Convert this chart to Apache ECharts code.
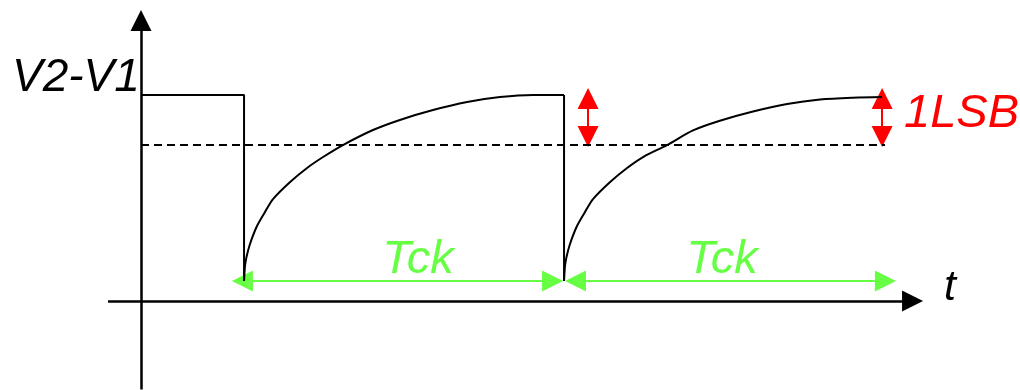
<!DOCTYPE html>
<html lang="en">
<head>
  <meta charset="UTF-8">
  <title>V2-V1 charging</title>
  <style>
    html, body { margin: 0; padding: 0; background: #fff; }
    #main { width: 1020px; height: 390px; }
  </style>
</head>
<body>
<div id="main"></div>
<script src="https://cdn.jsdelivr.net/npm/echarts@6/dist/echarts.min.js"></script>
<script>
// time in Tck units, voltage in units of V2-V1
var stepHigh = [[0, 1], [0.322, 1]]
var dropT = [0.322, 1.322]
var lowLevel = 0.097
var charge1 = [[0.322, 0.097], [0.325, 0.170], [0.3297, 0.214], [0.3406, 0.277], [0.3625, 0.364],
  [0.3875, 0.432], [0.4125, 0.495], [0.466, 0.578], [0.519, 0.646], [0.569, 0.699], [0.631, 0.757],
  [0.725, 0.830], [0.809, 0.879], [0.9125, 0.927], [1.019, 0.966], [1.122, 0.990], [1.225, 1.0],
  [1.322, 1.0]]
var charge2 = [[1.322, 0.097], [1.325, 0.170], [1.3297, 0.214], [1.3406, 0.277], [1.3625, 0.364],
  [1.3875, 0.432], [1.4125, 0.495], [1.466, 0.578], [1.519, 0.646], [1.569, 0.699], [1.644, 0.757],
  [1.725, 0.828], [1.809, 0.875], [1.9125, 0.920], [2.019, 0.956], [2.122, 0.978], [2.225, 0.987],
  [2.316, 0.990]]
var lsbLevel = 0.757
var lsbT = [1.397, 2.316]
var lsbTop = 1.034, lsbBottom = 0.748
var tckEdges = [[0.284, 1.319], [1.325, 2.359]]
var labels = { v: 'V2-V1', t: 't', tck: 'Tck', lsb: '1LSB' }

var green = '#66ff44'
var red = '#ff0000'
var headSize = 21
// half head size in data units (x: 320px per Tck, y: 206px per unit)
var hx = headSize / 2 / 320, hy = headSize / 2 / 206

var chart = echarts.init(document.getElementById('main'))

var axisArrows = [
  { coords: [[0, -0.43], [0, 1.413 - hy]] },
  { coords: [[-0.103, 0], [2.444 - hx, 0]] }
]
var lsbArrows = lsbT.map(function (t) {
  return { coords: [[t, lsbBottom + hy], [t, lsbTop - hy]] }
})
var tckArrows = tckEdges.map(function (e) {
  return { coords: [[e[0] + hx, lowLevel], [e[1] - hx, lowLevel]] }
})

var fontFam = '"Liberation Sans", Arial, sans-serif'
function txt(s, x, y, size, color, align) {
  return {
    type: 'text', x: x, y: y, z: 10,
    style: {
      text: s, fill: color, fontSize: size, fontStyle: 'italic',
      fontFamily: fontFam, align: align || 'left', verticalAlign: 'middle'
    }
  }
}

var curveStyle = { color: '#000', width: 2 }

chart.setOption({
  animation: false,
  grid: { left: 105.8, right: 47, top: 2.3, bottom: 0.4 },
  xAxis: { type: 'value', min: -0.11, max: 2.6, show: false },
  yAxis: { type: 'value', min: -0.43, max: 1.45, show: false },
  graphic: [
    txt(labels.v, 12, 78, 46, '#000'),
    txt(labels.t, 950, 288, 43, '#000', 'center'),
    txt(labels.tck, 418, 260, 47, green, 'center'),
    txt(labels.tck, 722, 260, 47, green, 'center'),
    txt(labels.lsb, 904, 114, 47, red)
  ],
  series: [
    { type: 'line', data: stepHigh.concat([[dropT[0], lowLevel]]), symbol: 'none', lineStyle: curveStyle },
    { type: 'line', data: [[dropT[1], 1], [dropT[1], lowLevel]], symbol: 'none', lineStyle: curveStyle },
    { type: 'line', data: charge1, symbol: 'none', smooth: 0.3, lineStyle: curveStyle },
    { type: 'line', data: charge2, symbol: 'none', smooth: 0.3, lineStyle: curveStyle },
    {
      type: 'line', data: [[0, lsbLevel], [2.325, lsbLevel]], symbol: 'none',
      lineStyle: { color: '#000', width: 2, type: [8, 5] }
    },
    {
      type: 'lines', coordinateSystem: 'cartesian2d', data: axisArrows,
      symbol: ['none', 'triangle'], symbolSize: headSize,
      lineStyle: { color: '#000', width: 2.5, opacity: 1 }
    },
    {
      type: 'lines', coordinateSystem: 'cartesian2d', data: lsbArrows,
      symbol: ['triangle', 'triangle'], symbolSize: headSize,
      lineStyle: { color: red, width: 2, opacity: 1 }
    },
    {
      type: 'lines', coordinateSystem: 'cartesian2d', data: tckArrows,
      symbol: ['triangle', 'triangle'], symbolSize: headSize,
      lineStyle: { color: green, width: 2, opacity: 1 }
    }
  ]
})
</script>
</body>
</html>
